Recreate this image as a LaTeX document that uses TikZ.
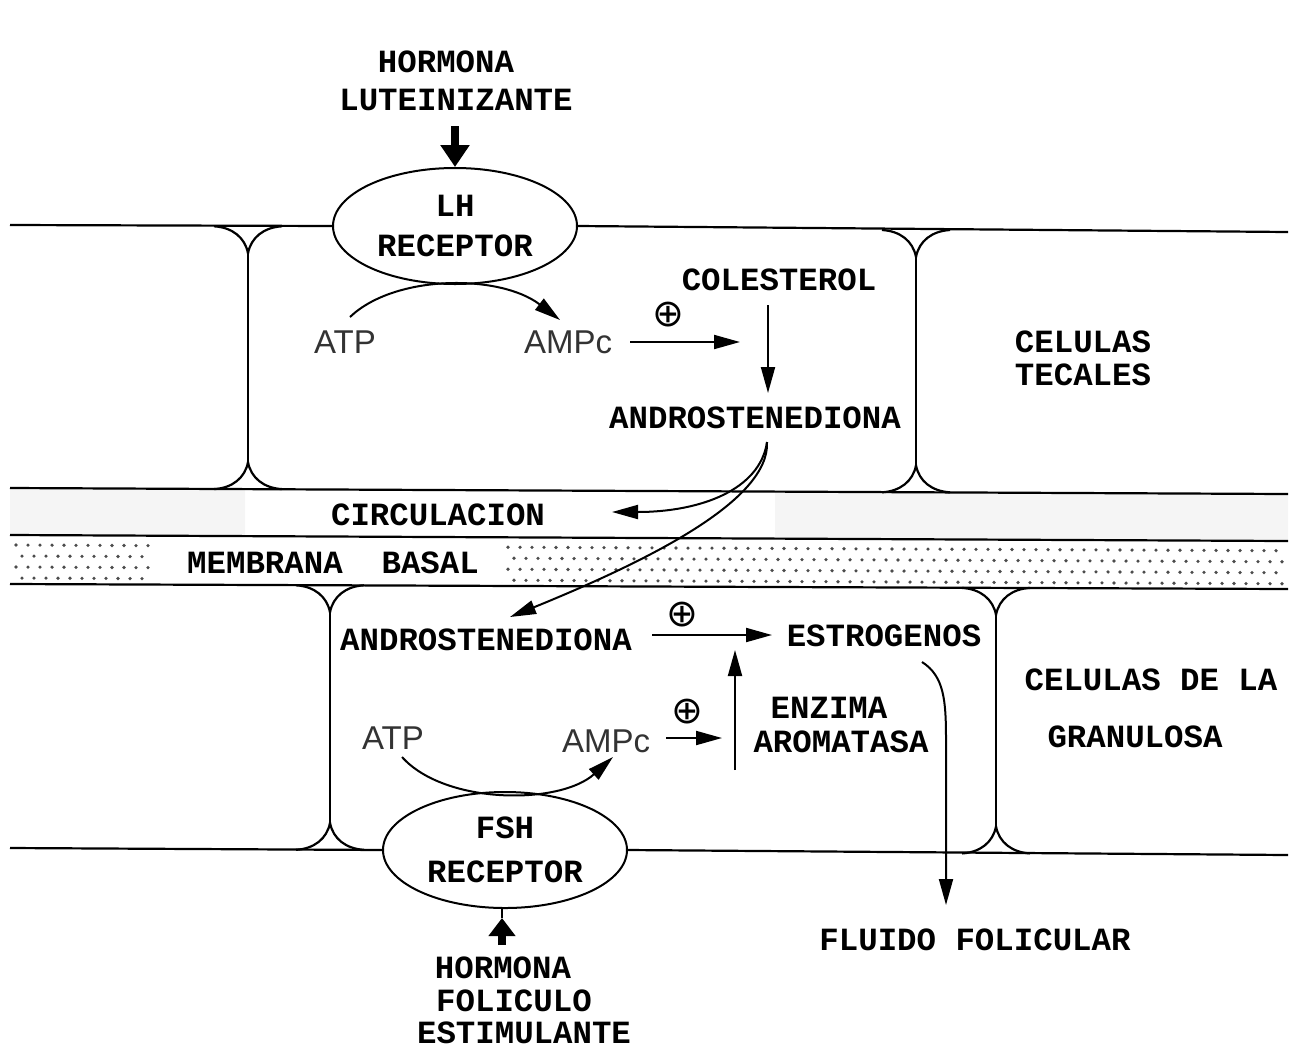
\documentclass[tikz,border=0pt]{standalone}
\usepackage{fontspec}
\newfontfamily\typefont{Liberation Mono}
\newfontfamily\chemfont{Liberation Sans}
\newfontfamily\symbfont{DejaVu Sans}
\usetikzlibrary{arrows.meta,shapes.geometric}

\tikzset{
  txt/.style={font=\typefont\bfseries\fontsize{16.2}{20}\selectfont, inner sep=0pt, align=center},
  chem/.style={font=\chemfont\fontsize{16.5}{18}\selectfont, text=black!80, inner sep=0pt},
  plus/.style={font=\symbfont\fontsize{19}{19}\selectfont, inner sep=0pt},
  receptor/.style={txt, ellipse, draw, line width=1pt, fill=white, minimum width=122pt, minimum height=58pt},
  memb/.style={line width=1.1pt},
  arr/.style={line width=1pt, -{Triangle[length=13pt,width=7pt]}},
  fat/.style={line width=4pt, -{Triangle[length=11pt,width=14pt]}},
}

\begin{document}
\begin{tikzpicture}[x=0.5pt, y=-0.5pt]
  \useasboundingbox (0,0) rectangle (1294,1050);

  % circulacion y membrana basal
  \fill[black!4] (10,488) -- (245,489) -- (245,536) -- (10,535) -- cycle;
  \fill[black!4] (775,491.6) -- (1288,494) -- (1288,541) -- (775,538.6) -- cycle;
  \foreach \r in {0,...,3}
    \foreach \i in {0,...,105} {
      \pgfmathsetmacro\dx{16+12*\i+6*mod(\r,2)}
      \pgfmathsetmacro\dy{545+11*\r+(\dx-10)*0.0045}
      \fill[black!70] (\dx,\dy) circle[radius=1.8];
    }
  \fill[white] (150,539) rectangle (505,582);

  \node[receptor] (lh) at (455,226) {LH\\RECEPTOR};
  \node[receptor] (fsh) at (505,850) {FSH\\[2pt]RECEPTOR};

  \draw[memb] (10,225) -- (lh.west);
  \draw[memb] (lh.east) -- (1288,232);
  \draw[memb] (10,488) -- (1288,494);
  \draw[memb] (10,535) -- (1288,541);
  \draw[memb] (10,584) -- (1288,589);
  \draw[memb] (10,848) -- (fsh.west);
  \draw[memb] (fsh.east) -- (1288,855);

  % paredes celulares
  \foreach \x/\t/\b in {248/226.3/489.1, 916/230/492.3, 330/585.3/849.8, 996/587.9/853.4} {
    \draw[memb] (\x-34,\t) .. controls (\x-16,\t+1) and (\x-3,\t+11) .. (\x,\t+27)
      .. controls (\x+3,\t+11) and (\x+16,\t+1) .. (\x+34,\t);
    \draw[memb] (\x,\t+27) -- (\x,\b-27);
    \draw[memb] (\x-34,\b) .. controls (\x-16,\b-1) and (\x-3,\b-11) .. (\x,\b-27)
      .. controls (\x+3,\b-11) and (\x+16,\b-1) .. (\x+34,\b);
  }

  \node[txt] (hlh1) at (446,62) {HORMONA};
  \node[txt] (hlh2) at (456,100) {LUTEINIZANTE};
  \node[chem] (atp1) at (345,342) {ATP};
  \node[chem] (amp1) at (568,342) {AMPc};
  \node[plus] (pl1) at (668,315) {⊕};
  \node[txt] (col) at (779,280) {COLESTEROL};
  \node[txt] (and1) at (755,418) {ANDROSTENEDIONA};
  \node[txt] (teca) at (1083,358) {CELULAS\\[-3.5pt]TECALES};
  \node[txt] (circ) at (438,515) {CIRCULACION};
  \node[txt] (mbas) at (333,563) {MEMBRANA\ \ BASAL};
  \node[txt] (and2) at (486,640) {ANDROSTENEDIONA};
  \node[plus] (pl2) at (682,615) {⊕};
  \node[txt] (estr) at (884,636) {ESTROGENOS};
  \node[txt] (gran1) at (1151,680) {CELULAS DE LA};
  \node[txt] (gran2) at (1135,737) {GRANULOSA};
  \node[chem] (atp2) at (393,738) {ATP};
  \node[chem] (amp2) at (606,741) {AMPc};
  \node[plus] (pl3) at (687,712) {⊕};
  \node[txt] (enz1) at (829,708) {ENZIMA};
  \node[txt] (enz2) at (841,742) {AROMATASA};
  \node[txt] (flu) at (975,940) {FLUIDO FOLICULAR};
  \node[txt] (hfsh1) at (503,968) {HORMONA};
  \node[txt] (hfsh2) at (514,1001) {FOLICULO};
  \node[txt] (hfsh3) at (524,1033) {ESTIMULANTE};

  \coordinate (lhin) at (455,126);
  \coordinate (atp1o) at (350,317);
  \coordinate (amp1i) at (560,320);
  \coordinate (rx1) at (740,342);
  \coordinate (colo) at (768,305);
  \coordinate (and1i) at (768,393);
  \coordinate (split) at (767,442);
  \coordinate (circi) at (612,512);
  \coordinate (and2i) at (510,617);
  \coordinate (estri) at (772,635);
  \coordinate (aroo) at (735,770);
  \coordinate (aroi) at (735,650);
  \coordinate (rx2) at (722,738);
  \coordinate (atp2o) at (402,757);
  \coordinate (amp2i) at (613,757);
  \coordinate (estro) at (922,662);
  \coordinate (flui) at (946,905);
  \coordinate (fshin) at (502,945);
  \coordinate (fshtip) at (502,918);

  \draw[fat] (lhin) -- (lh.north);
  \draw[arr] (atp1o) .. controls (395,274) and (500,274) .. (amp1i);
  \draw[arr, shorten <=9pt] (amp1.east) -- (rx1);
  \draw[arr] (colo) -- (and1i);
  \draw[arr] (split) .. controls (760,490) and (700,512) .. (circi);
  \draw[arr] (split) .. controls (770,500) and (650,560) .. (and2i);
  \draw[arr, shorten <=10pt] (and2.east |- estri) -- (estri);
  \draw[arr] (aroo) -- (aroi);
  \draw[arr, shorten <=8pt] (amp2.east |- rx2) -- (rx2);
  \draw[arr] (atp2o) .. controls (445,805) and (560,805) .. (amp2i);
  \draw[arr] (estro) .. controls (944,676) and (946,700) .. (946,740) -- (flui);
  \draw[fat, -{Triangle[length=9pt,width=13pt]}] (fshin) -- (fshtip);
  \draw[line width=1pt] (fshtip) -- (fsh.south -| fshtip);
\end{tikzpicture}
\end{document}
